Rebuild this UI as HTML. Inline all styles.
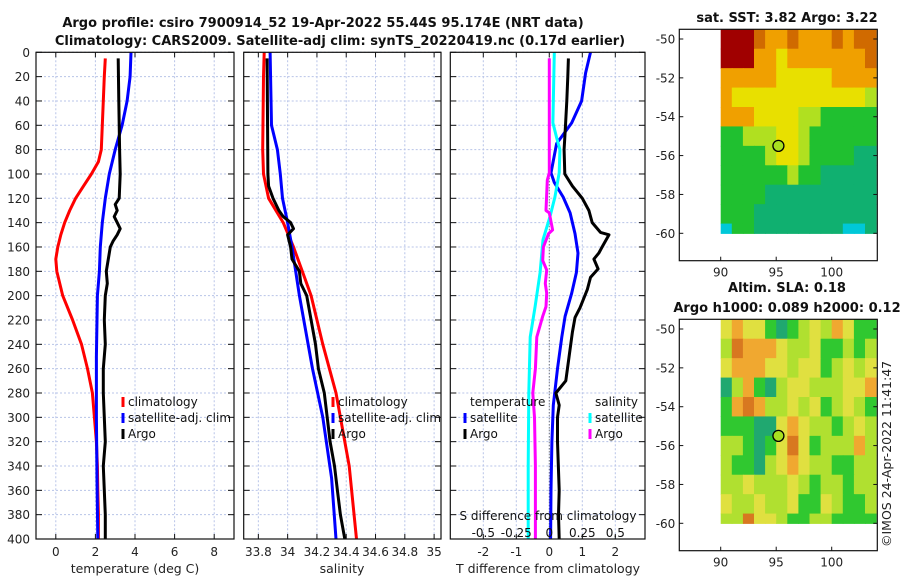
<!DOCTYPE html>
<html><head><meta charset="utf-8">
<style>
body{margin:0;background:#fff;}
svg{display:block;font-family:"DejaVu Sans","Liberation Sans",sans-serif;}
</style></head>
<body>
<svg id="fig" width="900" height="580" viewBox="0 0 900 580">
<text x="323" y="27" text-anchor="middle" font-size="13" font-weight="bold" fill="#111">Argo profile: csiro 7900914_52 19-Apr-2022 55.44S 95.174E (NRT data)</text>
<text x="340" y="45" text-anchor="middle" font-size="13" font-weight="bold" fill="#111">Climatology: CARS2009. Satellite-adj clim: synTS_20220419.nc (0.17d earlier)</text>
<text x="787" y="22" text-anchor="middle" font-size="13" font-weight="bold" fill="#111">sat. SST: 3.82 Argo: 3.22</text>
<text x="787" y="292" text-anchor="middle" font-size="13" font-weight="bold" fill="#111">Altim. SLA: 0.18</text>
<text x="787" y="312" text-anchor="middle" font-size="13" font-weight="bold" fill="#111">Argo h1000: 0.089 h2000: 0.12</text>
<text transform="translate(891,547) rotate(-90)" font-size="12.5" fill="#222">©IMOS 24-Apr-2022 11:41:47</text>
<g id="layer"></g>
</svg>
<script>
// ---- temperature panel data ----
const tClimDepth=[5,20,40,60,80,90,100,110,120,130,140,150,160,170,180,200,220,240,260,280,300,320,340,360,380,400];
const tClimVal=[2.5,2.45,2.4,2.35,2.3,2.15,1.8,1.4,1.0,0.7,0.45,0.25,0.1,0.0,0.05,0.35,0.85,1.3,1.6,1.85,1.95,2.05,2.1,2.12,2.15,2.15];
const tSatDepth=[0,20,40,60,80,100,120,140,160,180,200,250,300,350,400];
const tSatVal=[3.8,3.75,3.6,3.35,3.0,2.7,2.5,2.35,2.25,2.2,2.1,2.05,2.05,2.08,2.12];
const tArgoDepth=[5,40,80,100,120,125,130,135,140,145,150,155,160,170,180,190,200,220,240,260,280,300,320,340,360,380,400];
const tArgoVal=[3.15,3.18,3.22,3.25,3.2,3.0,3.1,2.95,3.1,3.25,3.1,2.9,2.75,2.65,2.55,2.6,2.5,2.45,2.5,2.4,2.4,2.45,2.5,2.4,2.45,2.5,2.5];
// ---- salinity panel data ----
const sClimDepth=[0,20,80,100,120,140,160,180,200,240,280,300,340,400];
const sClimVal=[33.84,33.835,33.83,33.835,33.87,33.97,34.04,34.1,34.16,34.24,34.33,34.36,34.42,34.47];
const sSatDepth=[0,60,80,100,120,140,160,200,260,300,350,400];
const sSatVal=[33.88,33.89,33.93,33.95,33.965,34.0,34.03,34.08,34.17,34.24,34.3,34.33];
const sArgoDepth=[5,100,110,120,130,135,140,145,150,160,170,180,190,200,220,240,260,280,300,320,340,360,380,400];
const sArgoVal=[33.86,33.865,33.87,33.9,33.94,33.97,34.02,34.04,34.0,34.02,34.03,34.08,34.09,34.13,34.16,34.19,34.21,34.25,34.27,34.29,34.32,34.34,34.36,34.39];
// ---- difference panel data (T units; salinity diff plotted x4) ----
const dTSatDepth=[0,17,40,58,75,99,107,119,132,149,165,181,198,217,234,260,290,320,360,400];
const dTSatVal=[1.25,1.1,0.98,0.68,0.22,0.05,0.15,0.42,0.63,0.78,0.87,0.82,0.68,0.48,0.38,0.25,0.12,0.08,0.05,0.04];
const dTArgoDepth=[5,20,40,60,80,100,110,120,130,140,148,150,160,165,170,178,185,195,210,218,230,250,270,280,290,300,320,360,380,400];
const dTArgoVal=[0.58,0.56,0.53,0.49,0.45,0.47,0.7,1.0,1.2,1.3,1.55,1.81,1.6,1.5,1.35,1.48,1.25,1.15,0.93,0.78,0.7,0.6,0.5,0.2,0.3,0.25,0.25,0.3,0.28,0.3];
const dSSatDepth=[0,58,70,80,99,119,135,154,181,209,234,280,340,400];
const dSSatVal=[0.15,0.11,0.22,0.32,0.3,0.17,0.02,-0.19,-0.28,-0.43,-0.58,-0.62,-0.64,-0.64];
const dSArgoDepth=[5,99,105,130,132,146,149,160,171,179,190,198,209,217,234,260,280,300,340,400];
const dSArgoVal=[0,0,-0.06,-0.1,0.0,0.1,-0.02,-0.18,-0.2,-0.08,-0.12,-0.08,-0.1,-0.2,-0.38,-0.42,-0.5,-0.45,-0.42,-0.42];
// ---- tick labels ----
const depthTicks=[0,20,40,60,80,100,120,140,160,180,200,220,240,260,280,300,320,340,360,380,400];
const tTicks=[0,2,4,6,8];
const sTicks=["33.8","34","34.2","34.4","34.6","34.8","35"];
const dTicks=[-2,-1,0,1,2];
const dSTicks=["-0.5","-0.25","0","0.25","0.5"];
const lonTicks=[90,95,100];
const latTicks=[-50,-52,-54,-56,-58,-60];
// ---- map grids (palette indices), rows lat -50..-60, cols lon 90..103 ----
const sstGrid=[
[0,0,0,1,2,2,1,2,2,2,1,2,1,1],
[0,0,0,2,2,3,2,2,2,2,2,2,2,1],
[2,2,2,2,2,3,3,3,3,3,2,2,2,2],
[2,3,3,3,3,3,3,3,3,3,3,3,3,4],
[2,2,2,3,3,3,3,4,4,5,5,5,5,5],
[5,5,4,4,4,3,3,4,5,5,5,5,5,5],
[5,5,5,5,4,3,3,4,5,5,5,5,6,6],
[5,5,5,5,5,5,4,5,5,6,6,6,6,6],
[5,5,5,5,6,6,6,6,6,6,6,6,6,6],
[5,5,5,6,6,6,6,6,6,6,6,6,6,6],
[7,5,5,6,6,6,6,6,6,6,6,7,7,6]];
const slaGrid=[
[3,2,3,3,5,6,5,4,3,4,2,3,5,5],
[4,8,2,2,2,3,4,4,3,5,5,4,5,4],
[3,2,2,2,3,3,4,3,3,5,4,3,4,3],
[6,4,2,5,6,4,3,3,4,4,4,3,3,2],
[5,2,8,2,4,4,3,4,3,5,4,3,4,5],
[5,5,5,6,6,3,2,3,4,4,5,4,3,4],
[4,4,5,6,5,3,8,3,5,4,4,4,2,4],
[4,5,5,6,4,3,2,3,4,4,5,5,4,4],
[4,4,3,4,4,4,3,4,5,4,4,5,4,4],
[3,4,4,3,4,4,3,5,5,3,4,5,5,4],
[4,4,8,3,3,4,5,5,4,4,5,5,5,5]];
const floatLon=95.2, floatLat=-55.5;

const NS="http://www.w3.org/2000/svg";
const layer=document.getElementById('layer');
function mk(tag,attrs,parent){const e=document.createElementNS(NS,tag);for(const k in attrs)e.setAttribute(k,attrs[k]);(parent||layer).appendChild(e);return e;}
const TOP=52.3,BOT=539;
function yD(d){return TOP+d*(BOT-TOP)/400;}
const panels=[
 {name:'temperature',x0:36,x1:234,min:-1,max:9},
 {name:'salinity',x0:243.7,x1:441,min:33.7,max:35.047},
 {name:'difference',x0:450.3,x1:645,min:-3,max:2.9}];
function xs(p,v){return p.x0+(v-p.min)*(p.x1-p.x0)/(p.max-p.min);}

panels.forEach((p,pi)=>{
  const g=mk('g',{});
  
  
  let ticks = pi===0?tTicks:(pi===1?sTicks.map(Number):dTicks);
  ticks.forEach(t=>{const x=xs(p,t);
    const l=mk('line',{x1:x,x2:x,y1:TOP,y2:BOT,stroke:'#b8c4e8','stroke-width':1,'stroke-dasharray':'2,2'},g);
    
    mk('line',{x1:x,x2:x,y1:BOT,y2:BOT-5,stroke:'#111'},g);
    mk('line',{x1:x,x2:x,y1:TOP,y2:TOP+5,stroke:'#111'},g);
  });
  depthTicks.forEach(d=>{const y=yD(d);
    const l=mk('line',{x1:p.x0,x2:p.x1,y1:y,y2:y,stroke:'#b8c4e8','stroke-width':1,'stroke-dasharray':'2,2'},g);
    
    mk('line',{x1:p.x0,x2:p.x0+6,y1:y,y2:y,stroke:'#111'},g);
    mk('line',{x1:p.x1-6,x2:p.x1,y1:y,y2:y,stroke:'#111'},g);
  });
  ticks.forEach((t,i)=>{
    const lab = pi===1?sTicks[i]:String(t);
    const tx=mk('text',{x:xs(p,t),y:556,'text-anchor':'middle','font-size':12,fill:'#222'},g);
    tx.textContent=lab;
    
  });
  if(pi===2){const z=xs(p,0);mk('line',{x1:z,x2:z,y1:TOP,y2:BOT,stroke:'#555','stroke-width':1,'stroke-dasharray':'1,2'},g);}
});
// y tick labels
depthTicks.forEach(d=>{const t=mk('text',{x:30,y:yD(d)+4.5,'text-anchor':'end','font-size':12,fill:'#222'});t.textContent=d;
  });
// axis titles
[['temperature (deg C)',135,'x-axis-title-temperature'],['salinity',342,'x-axis-title-salinity'],['T difference from climatology',548,'x-axis-title-difference']].forEach(a=>{
  const t=mk('text',{x:a[1],y:573,'text-anchor':'middle','font-size':12.5,fill:'#222'});t.textContent=a[0];
  });
// series
function series(p,depths,vals,color,name,scale){
  const pts=depths.map((d,i)=>xs(p,vals[i]*(scale||1)).toFixed(1)+','+yD(d).toFixed(1)).join(' ');
  const e=mk('polyline',{points:pts,fill:'none',stroke:color,'stroke-width':3,'stroke-linejoin':'round'});
  
  
}
const P=panels;
series(P[0],tClimDepth,tClimVal,'#ff0000','temp-climatology-line');
series(P[0],tSatDepth,tSatVal,'#0000ff','temp-satellite-line');
series(P[0],tArgoDepth,tArgoVal,'#000000','temp-argo-line');
series(P[1],sClimDepth,sClimVal,'#ff0000','sal-climatology-line');
series(P[1],sSatDepth,sSatVal,'#0000ff','sal-satellite-line');
series(P[1],sArgoDepth,sArgoVal,'#000000','sal-argo-line');
series(P[2],dTSatDepth,dTSatVal,'#0000ff','tdiff-satellite-line');
series(P[2],dTArgoDepth,dTArgoVal,'#000000','tdiff-argo-line');
series(P[2],dSSatDepth,dSSatVal,'#00ffff','sdiff-satellite-line');
series(P[2],dSArgoDepth,dSArgoVal,'#ff00ff','sdiff-argo-line');
// frames
panels.forEach(p=>{const r=mk('rect',{x:p.x0,y:TOP,width:p.x1-p.x0,height:BOT-TOP,fill:'none',stroke:'#111','stroke-width':1.2});
  });
// legends
function legend(x,y,color,label,name){
  if(color){mk('line',{x1:x-5,x2:x-5,y1:y-9,y2:y+1,stroke:color,'stroke-width':3});}
  const t=mk('text',{x:x,y:y,'font-size':12,fill:'#111'});t.textContent=label;
  
}
legend(128,406,'#ff0000','climatology','legend-temp-climatology');
legend(128,422,'#0000ff','satellite-adj. clim','legend-temp-satellite');
legend(128,438,'#000000','Argo','legend-temp-argo');
legend(338,406,'#ff0000','climatology','legend-sal-climatology');
legend(338,422,'#0000ff','satellite-adj. clim','legend-sal-satellite');
legend(338,438,'#000000','Argo','legend-sal-argo');
legend(470,406,null,'temperature','legend-temperature-header');
legend(470,422,'#0000ff','satellite','legend-tdiff-satellite');
legend(470,438,'#000000','Argo','legend-tdiff-argo');
legend(595,406,null,'salinity','legend-salinity-header');
legend(595,422,'#00ffff','satellite','legend-sdiff-satellite');
legend(595,438,'#ff00ff','Argo','legend-sdiff-argo');
{const t=mk('text',{x:548,y:520,'text-anchor':'middle','font-size':12,fill:'#111'});t.textContent='S difference from climatology';
 }
dSTicks.forEach(s=>{const t=mk('text',{x:xs(P[2],Number(s)*4),y:537,'text-anchor':'middle','font-size':12,fill:'#111'});t.textContent=s;
 });
// maps
const sstPal=['#a00000','#d06a00','#f0a000','#e8e000','#b0e020','#20c030','#10b070','#00c8d8'];
const slaPal=['#a00000','#d06a00','#f0a830','#e0e040','#b0e030','#30c830','#20a870','#00c8d8','#d87820'];
function drawMap(top,bottom,lat50y,lat60y,grid,pal,name){
  const L=679.3,R=877.3,lon90=720.7,pxLon=(831.7-720.7)/10;
  const pxLat=(lat60y-lat50y)/10;
  const lx=v=>lon90+(v-90)*pxLon, ly=v=>lat50y+(-50-v)*pxLat;
  const g=mk('g',{});
  grid.forEach((row,ri)=>row.forEach((c,ci)=>{
    const la0=-49.5-ri, la1=Math.max(-50.5-ri,-60);
    const r=mk('rect',{x:lx(90+ci),y:ly(la0),width:pxLon+0.6,height:ly(la1)-ly(la0)+0.6,fill:pal[c]},g);
    
  }));
  const c=mk('circle',{cx:lx(floatLon),cy:ly(floatLat),r:5.5,fill:'#a8e020',stroke:'#000','stroke-width':1.3},g);
  
  const f=mk('rect',{x:L,y:top,width:R-L,height:bottom-top,fill:'none',stroke:'#111','stroke-width':1.2},g);
  
  lonTicks.forEach(v=>{mk('line',{x1:lx(v),x2:lx(v),y1:bottom,y2:bottom-4,stroke:'#111'},g);
    const t=mk('text',{x:lx(v),y:bottom+16,'text-anchor':'middle','font-size':12,fill:'#222'},g);t.textContent=v;
    });
  latTicks.forEach(v=>{mk('line',{x1:L,x2:L+4,y1:ly(v),y2:ly(v),stroke:'#111'},g);mk('line',{x1:R-4,x2:R,y1:ly(v),y2:ly(v),stroke:'#111'},g);
    const t=mk('text',{x:L-4,y:ly(v)+4.5,'text-anchor':'end','font-size':12,fill:'#222'},g);t.textContent=v;
    });
}
drawMap(29.3,260.7,39,233.3,sstGrid,sstPal,'sst-map');
drawMap(319.3,550.7,329,523.3,slaGrid,slaPal,'sla-map');
</script>
</body></html>
